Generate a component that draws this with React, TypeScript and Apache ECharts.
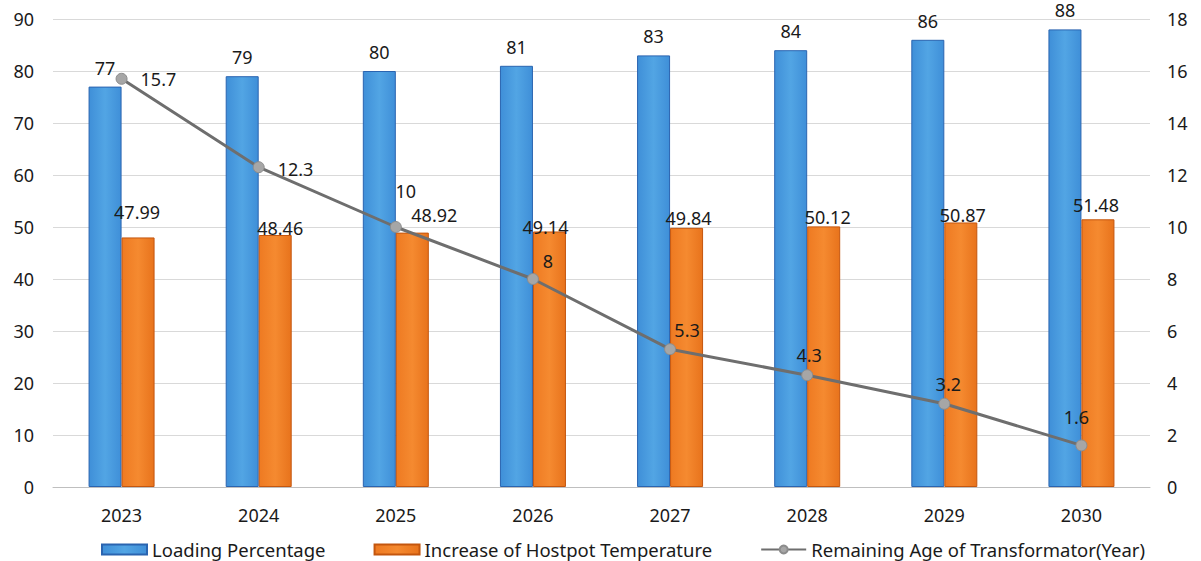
import React, { useEffect, useRef } from "react";
import * as echarts from "echarts";

const years = ["2023", "2024", "2025", "2026", "2027", "2028", "2029", "2030"];
const loadingPercentage = [77, 79, 80, 81, 83, 84, 86, 88];
const hotspotIncrease = [47.99, 48.46, 48.92, 49.14, 49.84, 50.12, 50.87, 51.48];
const remainingAge = [15.7, 12.3, 10, 8, 5.3, 4.3, 3.2, 1.6];

const FONT = "Noto Sans";

// label placement tweaks (pixels), mirroring the hand-placed labels of the original
const orangeLabelShift = [[-1, -10], [5, 8], [22, -3], [-4, 11], [2, 5], [4, 6], [2, 8], [-2, 1]];
const lineLabelPlace: any[] = [
  { position: "right", distance: 13, offset: [0, 0] },
  { position: "right", distance: 13, offset: [0, 2] },
  { position: "top", distance: 5, offset: [10, -16] },
  { position: "top", distance: 5, offset: [15, 2] },
  { position: "top", distance: 5, offset: [17, 1] },
  { position: "top", distance: 5, offset: [2, 0] },
  { position: "top", distance: 5, offset: [4, 0] },
  { position: "top", distance: 5, offset: [-5, -8] },
];

export default function App() {
  const ref = useRef<HTMLDivElement>(null);
  useEffect(() => {
    document.body.style.margin = "0";
    document.body.style.overflow = "hidden";
    const chart = echarts.init(ref.current!, null, { renderer: "svg" });
    const labelStyle = { color: "#1a1a1a", fontSize: 18, fontFamily: FONT };
    chart.setOption({
      animation: false,
      backgroundColor: "#ffffff",
      textStyle: { fontFamily: FONT },
      grid: { left: 53, right: 51, top: 19, bottom: 74 },
      legend: {
        top: 535,
        left: 96,
        itemWidth: 45,
        itemHeight: 10,
        itemGap: 48,
        textStyle: { fontSize: 18.5, color: "#1a1a1a", fontFamily: FONT },
        data: [
          { name: "Loading Percentage", icon: "rect" },
          { name: "Increase of Hostpot Temperature", icon: "rect" },
          { name: "Remaining Age of Transformator(Year)" },
        ],
      },
      xAxis: {
        type: "category",
        data: years,
        axisLine: { lineStyle: { color: "#bfbfbf", width: 1 } },
        axisTick: { show: false },
        axisLabel: { color: "#1a1a1a", fontSize: 18, margin: 19, fontFamily: FONT },
      },
      yAxis: [
        {
          type: "value",
          min: 0,
          max: 90,
          interval: 10,
          axisLine: { show: false },
          axisTick: { show: false },
          splitLine: { lineStyle: { color: "#d9d9d9", width: 1 } },
          axisLabel: { color: "#1a1a1a", fontSize: 18, margin: 19, fontFamily: FONT },
        },
        {
          type: "value",
          min: 0,
          max: 18,
          interval: 2,
          axisLine: { show: false },
          axisTick: { show: false },
          splitLine: { show: false },
          axisLabel: { color: "#1a1a1a", fontSize: 18, margin: 17, fontFamily: FONT },
        },
      ],
      series: [
        {
          name: "Loading Percentage",
          type: "bar",
          data: loadingPercentage,
          barWidth: 33,
          barGap: "0%",
          itemStyle: {
            color: new echarts.graphic.LinearGradient(0, 0, 1, 0, [
              { offset: 0, color: "#3f8fd8" },
              { offset: 0.5, color: "#52a5e4" },
              { offset: 1, color: "#3f8fd8" },
            ]),
            borderColor: "#2a64b0",
            borderWidth: 1,
          },
          label: { show: true, position: "top", distance: 10, ...labelStyle },
        },
        {
          name: "Increase of Hostpot Temperature",
          type: "bar",
          data: hotspotIncrease.map((v, i) => ({
            value: v,
            label: { offset: orangeLabelShift[i] },
          })),
          barWidth: 33,
          barGap: "0%",
          itemStyle: {
            color: new echarts.graphic.LinearGradient(0, 0, 1, 0, [
              { offset: 0, color: "#ee7a22" },
              { offset: 0.5, color: "#f58a30" },
              { offset: 1, color: "#e8731c" },
            ]),
            borderColor: "#c4560e",
            borderWidth: 1,
          },
          label: { show: true, position: "top", distance: 6, ...labelStyle },
        },
        {
          name: "Remaining Age of Transformator(Year)",
          type: "line",
          yAxisIndex: 1,
          data: remainingAge.map((v, i) => ({ value: v, label: lineLabelPlace[i] })),
          symbol: "circle",
          symbolSize: 11,
          lineStyle: { color: "#6e6e6e", width: 3 },
          itemStyle: { color: "#a6a6a6", borderColor: "#8c8c8c", borderWidth: 1 },
          label: { show: true, ...labelStyle },
          z: 5,
        },
      ],
    });
    return () => chart.dispose();
  }, []);
  return (
    <div
      ref={ref}
      style={{ position: "absolute", left: 0, top: 0, width: 1201, height: 561 }}
    />
  );
}
